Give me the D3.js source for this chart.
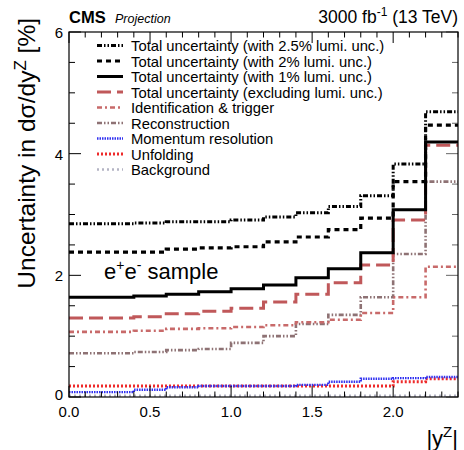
<!DOCTYPE html>
<meta charset="utf-8">
<script src="https://d3js.org/d3.v7.min.js"></script>
<style>
  body { margin: 0; background: #fff; }
  text { font-family: "Liberation Sans", Arial, Helvetica, sans-serif; }
</style>
<div id="chart"></div>
<script>
// bin edges in |y^Z|
var binEdges = [0, 0.2, 0.4, 0.6, 0.8, 1.0, 1.2, 1.4, 1.6, 1.8, 2.0, 2.2, 2.4];

// uncertainties in % per bin
var tot25  = [2.85, 2.85, 2.86, 2.88, 2.88, 2.91, 2.96, 3.03, 3.13, 3.31, 3.83, 4.69];
var tot20  = [2.38, 2.38, 2.38, 2.43, 2.45, 2.47, 2.55, 2.63, 2.75, 2.94, 3.54, 4.47];
var tot10  = [1.64, 1.64, 1.66, 1.69, 1.73, 1.78, 1.84, 1.96, 2.11, 2.37, 3.08, 4.19];
var totExcl = [1.30, 1.30, 1.32, 1.37, 1.41, 1.46, 1.56, 1.69, 1.88, 2.17, 2.91, 4.14];
var idTrig = [1.07, 1.07, 1.09, 1.12, 1.13, 1.15, 1.18, 1.23, 1.27, 1.38, 1.64, 2.14];
var reco   = [0.72, 0.72, 0.74, 0.77, 0.79, 0.89, 1.00, 1.20, 1.35, 1.64, 2.35, 3.54];
var momRes = [0.08, 0.08, 0.12, 0.16, 0.18, 0.18, 0.18, 0.20, 0.25, 0.30, 0.31, 0.33];
var unfold = [0.18, 0.18, 0.18, 0.18, 0.18, 0.18, 0.18, 0.18, 0.18, 0.18, 0.25, 0.30];
var bkg    = [0.02, 0.02, 0.02, 0.02, 0.02, 0.02, 0.02, 0.02, 0.02, 0.02, 0.02, 0.02];

var xTicks = [0, 0.5, 1.0, 1.5, 2.0];
var yTicks = [0, 2, 4, 6];

var series = [
  {name: "Total uncertainty (with 2.5% lumi. unc.)", vals: tot25, color: "#000", width: 3, dash: "5,2,1.5,2,1.5,2"},
  {name: "Total uncertainty (with 2% lumi. unc.)", vals: tot20, color: "#000", width: 3.2, dash: "5,4"},
  {name: "Total uncertainty (with 1% lumi. unc.)", vals: tot10, color: "#000", width: 3, dash: null},
  {name: "Total uncertainty (excluding lumi. unc.)", vals: totExcl, color: "#c0585a", width: 3, dash: "14,6"},
  {name: "Identification & trigger", vals: idTrig, color: "#c86a6a", width: 2.6, dash: "5,3,2,3"},
  {name: "Reconstruction", vals: reco, color: "#8e7274", width: 2.6, dash: "5,2,1.5,2,1.5,2"},
  {name: "Momentum resolution", vals: momRes, color: "#3030f0", width: 2.4, dash: "1.5,1"},
  {name: "Unfolding", vals: unfold, color: "#ee2a2a", width: 3, dash: "2,2"},
  {name: "Background", vals: bkg, color: "#b4b4c4", width: 2.4, dash: "2,3"}
];

var margin = {top: 32, right: 6, bottom: 53, left: 69},
    width = 464 - margin.left - margin.right,
    height = 450 - margin.top - margin.bottom;

var svg = d3.select("#chart").append("svg")
    .attr("width", 464)
    .attr("height", 450);

var g = svg.append("g")
    .attr("transform", "translate(" + margin.left + "," + margin.top + ")");

var x = d3.scaleLinear().domain([0, 2.4]).range([0, width]);
var y = d3.scaleLinear().domain([0, 6]).range([height, 0]);

// ticks (inside, on all four sides)
var minorX = d3.range(0, 2.4001, 0.1);
var minorY = d3.range(0, 6.001, 0.5);
function isMajorX(v) { return Math.abs(v / 0.5 - Math.round(v / 0.5)) < 1e-6; }
function isMajorY(v) { return Math.abs(v / 2 - Math.round(v / 2)) < 1e-6; }

// step histograms
var line = d3.line()
  .x(d => x(d[0]))
  .y(d => y(d[1]))
  .curve(d3.curveStepAfter);

series.slice().reverse().forEach(function(s) {
  var pts = s.vals.map((v, i) => [binEdges[i], v]);
  pts.push([binEdges[binEdges.length - 1], s.vals[s.vals.length - 1]]);
  g.append("path")
    .datum(pts)
    .attr("d", line)
    .attr("fill", "none")
    .attr("stroke", s.color)
    .attr("stroke-width", s.width)
    .attr("stroke-dasharray", s.dash);
});

g.selectAll(".xt").data(minorX).enter().append("line")
  .attr("x1", d => x(d)).attr("x2", d => x(d))
  .attr("y1", height).attr("y2", d => height - (isMajorX(d) ? 11 : 5.5))
  .attr("stroke", "#000").attr("stroke-width", 1);
g.selectAll(".xtt").data(minorX).enter().append("line")
  .attr("x1", d => x(d)).attr("x2", d => x(d))
  .attr("y1", 0).attr("y2", d => (isMajorX(d) ? 11 : 5.5))
  .attr("stroke", "#000").attr("stroke-width", 1);
g.selectAll(".yt").data(minorY).enter().append("line")
  .attr("x1", 0).attr("x2", d => (isMajorY(d) ? 12 : 6))
  .attr("y1", d => y(d)).attr("y2", d => y(d))
  .attr("stroke", "#000").attr("stroke-width", 1);
g.selectAll(".ytr").data(minorY).enter().append("line")
  .attr("x1", width).attr("x2", d => width - (isMajorY(d) ? 12 : 6))
  .attr("y1", d => y(d)).attr("y2", d => y(d))
  .attr("stroke", "#666").attr("stroke-width", 1);

// frame
g.append("rect")
  .attr("width", width).attr("height", height)
  .attr("fill", "none").attr("stroke", "#000").attr("stroke-width", 1.2);

// tick labels
g.selectAll(".xl").data(xTicks).enter().append("text")
  .attr("x", d => x(d)).attr("y", height + 20)
  .attr("text-anchor", "middle")
  .attr("font-size", 15)
  .text(d => d.toFixed(1));
g.selectAll(".yl").data(yTicks).enter().append("text")
  .attr("x", -6).attr("y", d => y(d) + (d === 0 ? 3 : 6))
  .attr("text-anchor", "end")
  .attr("font-size", 15)
  .text(d => d);

// axis titles
svg.append("text")
  .attr("transform", "translate(35,18) rotate(-90)")
  .attr("text-anchor", "end")
  .attr("font-size", 24.5)
  .html('Uncertainty in d\u03c3/dy<tspan dy="-9" font-size="17">Z</tspan><tspan dy="9"> [%]</tspan>');
svg.append("text")
  .attr("x", 458).attr("y", 446)
  .attr("text-anchor", "end")
  .attr("font-size", 22)
  .html('|y<tspan dy="-9" font-size="15">Z</tspan><tspan dy="9">|</tspan>');

// header
svg.append("text").attr("x", 69).attr("y", 23)
  .attr("font-size", 16.5).attr("font-weight", "bold").text("CMS");
svg.append("text").attr("x", 115).attr("y", 23)
  .attr("font-size", 12.5).attr("font-style", "italic").text("Projection");
svg.append("text").attr("x", 458).attr("y", 23)
  .attr("text-anchor", "end").attr("font-size", 17.5)
  .html('3000 fb<tspan dy="-7" font-size="12">-1</tspan><tspan dy="7"> (13 TeV)</tspan>');

// sample label
g.append("text").attr("x", 35).attr("y", 247)
  .attr("font-size", 22)
  .html('e<tspan dy="-9" font-size="14">+</tspan><tspan dy="9">e</tspan><tspan dy="-9" font-size="14">-</tspan><tspan dy="9"> sample</tspan>');

// legend
var leg = g.selectAll(".leg").data(series).enter().append("g")
  .attr("transform", (d, i) => "translate(28," + (13.5 + i * 15.5) + ")");
leg.append("line")
  .attr("x1", 0).attr("x2", 26)
  .attr("stroke", d => d.color)
  .attr("stroke-width", d => d.width)
  .attr("stroke-dasharray", d => d.dash);
leg.append("text")
  .attr("x", 34).attr("y", 5.5)
  .attr("font-size", 14.8)
  .text(d => d.name);
</script>
